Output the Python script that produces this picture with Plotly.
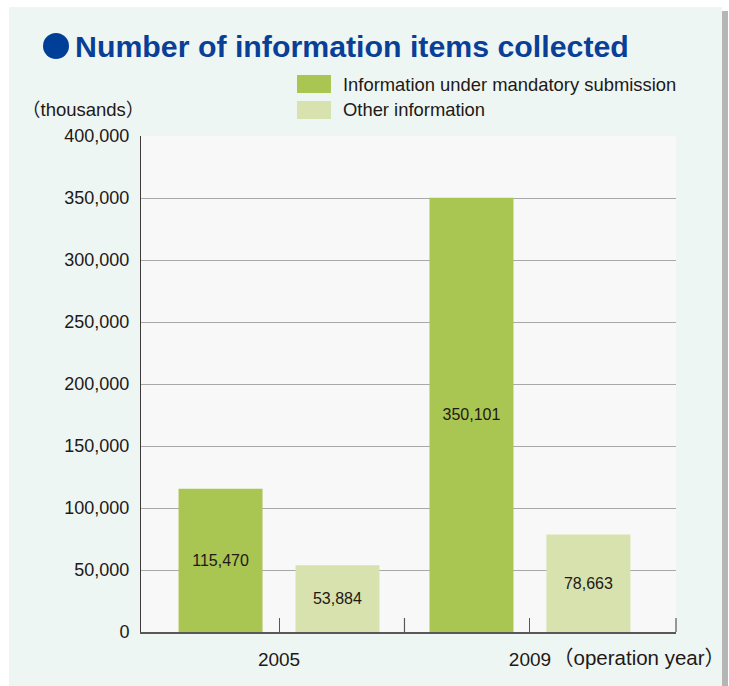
import plotly.graph_objects as go

# Data (thousands of items)
years = ["2005", "2009"]
series_names = ["Information under mandatory submission", "Other information"]
mandatory = [115470, 350101]
other = [53884, 78663]
y_ticks = [0, 50000, 100000, 150000, 200000, 250000, 300000, 350000, 400000]

colors = ["#A9C552", "#D7E2AE"]
text_color = "#231815"
font_main = "Liberation Sans, Arial, Helvetica, sans-serif"
font_cjk = "Liberation Sans, Noto Sans CJK JP, sans-serif"

fig = go.Figure()
for name, vals, col in zip(series_names, [mandatory, other], colors):
    fig.add_trace(go.Bar(
        x=years, y=vals, name=name,
        marker=dict(color=col, line=dict(width=0)),
        text=[f"{v:,}" for v in vals],
        textposition="inside", insidetextanchor="middle",
        textfont=dict(size=16, color=text_color, family=font_main),
        textangle=0,
        showlegend=False,
    ))

W, H = 729, 686
L, R, T, B = 141, 53, 136, 54
pw, ph = W - L - R, H - T - B

def px_x(px):
    return (px - L) / pw

def px_y(py):
    return (H - B - py) / ph

shapes = [
    # panel shadow
    dict(type="rect", xref="paper", yref="paper", layer="below",
         x0=px_x(14), x1=px_x(728), y0=px_y(692), y1=px_y(11),
         fillcolor="#B5B5B5", line=dict(width=0)),
    # panel
    dict(type="rect", xref="paper", yref="paper", layer="below",
         x0=px_x(9), x1=px_x(722), y0=px_y(690), y1=px_y(7),
         fillcolor="#EDF6F3", line=dict(width=0)),
    # plot area
    dict(type="rect", xref="paper", yref="paper", layer="below",
         x0=0, x1=1, y0=0, y1=1,
         fillcolor="#F8F8F8", line=dict(width=0)),
    # tick between the year groups
    dict(type="line", xref="x", yref="paper", layer="above",
         x0=0.5, x1=0.5, y0=0, y1=14 / ph,
         line=dict(color="#595757", width=1.2)),
    # tick at right end
    dict(type="line", xref="paper", yref="paper", layer="above",
         x0=1, x1=1, y0=0, y1=14 / ph,
         line=dict(color="#595757", width=1.2)),
    # title bullet
    dict(type="circle", xref="paper", yref="paper", layer="above",
         x0=px_x(43), x1=px_x(69), y0=px_y(59), y1=px_y(33),
         fillcolor="#003F98", line=dict(width=0)),
]

annotations = [
    dict(text="<b>Number of information items collected</b>",
         xref="paper", yref="paper", x=px_x(73), y=px_y(46),
         xanchor="left", yanchor="middle", showarrow=False,
         font=dict(size=30.3, color="#0A3F97", family=font_main)),
    dict(text="（thousands）", xref="paper", yref="paper",
         x=px_x(146), y=px_y(109), xanchor="right", yanchor="middle",
         showarrow=False, font=dict(size=18.5, color=text_color, family=font_cjk)),
    dict(text="（operation year）", xref="paper", yref="paper",
         x=px_x(727), y=px_y(657), xanchor="right", yanchor="middle",
         showarrow=False, font=dict(size=20.5, color=text_color, family=font_cjk)),
]

# Custom legend with wide swatches
for i, (name, col) in enumerate(zip(series_names, colors)):
    cy = 84 + i * 26
    shapes.append(dict(type="rect", xref="paper", yref="paper", layer="above",
                       x0=px_x(297), x1=px_x(331), y0=px_y(cy + 9), y1=px_y(cy - 9),
                       fillcolor=col, line=dict(width=0)))
    annotations.append(dict(text=name, xref="paper", yref="paper",
                            x=px_x(341), y=px_y(cy), xanchor="left", yanchor="middle",
                            showarrow=False,
                            font=dict(size=18.4, color=text_color, family=font_main)))

fig.update_layout(
    width=W, height=H,
    margin=dict(l=L, r=R, t=T, b=B, pad=0),
    paper_bgcolor="white",
    plot_bgcolor="rgba(0,0,0,0)",
    barmode="group", bargap=0.068, bargroupgap=0.282,
    shapes=shapes, annotations=annotations,
    font=dict(family=font_main, color=text_color),
    xaxis=dict(
        type="category", range=[-0.55, 1.582],
        showgrid=False, zeroline=False,
        showline=True, linecolor="#595757", linewidth=2,
        ticks="inside", ticklen=14, tickcolor="#595757", tickwidth=1.2,
        tickfont=dict(size=19, color=text_color),
        ticklabelstandoff=9,
    ),
    yaxis=dict(
        range=[0, 400000], tickvals=y_ticks,
        ticktext=[f"{v:,}" for v in y_ticks],
        showgrid=True, gridcolor="#A8A8A8", gridwidth=1.2,
        zeroline=False,
        showline=True, linecolor="#3E3A39", linewidth=1,
        ticks="", tickfont=dict(size=18, color=text_color),
        ticklabelstandoff=7,
    ),
)

fig.write_html("out.html")
